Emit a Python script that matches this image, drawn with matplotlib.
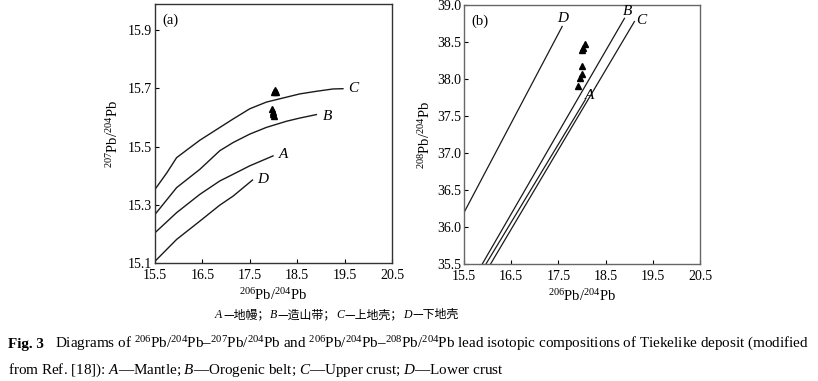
import matplotlib
matplotlib.use("Agg")
import matplotlib.pyplot as plt

plt.rcParams['font.family'] = ['Liberation Serif', 'Noto Sans CJK SC']
plt.rcParams['mathtext.fontset'] = 'custom'
plt.rcParams['mathtext.rm'] = 'Liberation Serif'
plt.rcParams['mathtext.it'] = 'Liberation Serif:italic'
plt.rcParams['mathtext.bf'] = 'Liberation Serif:bold'

# ---- panel (a): 206Pb/204Pb vs 207Pb/204Pb evolution curves
a_C_x = [15.5, 15.75, 15.956, 16.2, 16.447, 17.149, 17.5, 17.851, 18.553, 18.904, 19.254, 19.465]
a_C_y = [15.353, 15.41, 15.462, 15.492, 15.522, 15.595, 15.630, 15.653, 15.681, 15.690, 15.698, 15.699]
a_B_x = [15.5, 15.956, 16.447, 16.868, 17.149, 17.5, 17.851, 18.272, 18.553, 18.904]
a_B_y = [15.267, 15.359, 15.422, 15.486, 15.514, 15.543, 15.566, 15.587, 15.598, 15.610]
a_A_x = [15.5, 15.956, 16.447, 16.868, 17.149, 17.5, 17.99]
a_A_y = [15.204, 15.273, 15.336, 15.382, 15.405, 15.434, 15.468]
a_D_x = [15.5, 15.956, 16.447, 16.868, 17.149, 17.556]
a_D_y = [15.106, 15.181, 15.244, 15.299, 15.330, 15.385]
# samples
a_pts_x = [18.0, 18.03, 18.05, 17.97, 17.98, 17.99, 18.0]
a_pts_y = [15.688, 15.693, 15.686, 15.630, 15.620, 15.611, 15.605]
a_labels = {'C': (19.68, 15.698), 'B': (19.15, 15.605), 'A': (18.22, 15.472), 'D': (17.78, 15.388)}

# ---- panel (b): 206Pb/204Pb vs 208Pb/204Pb
b_D_x = [15.5, 17.58]
b_D_y = [36.195, 38.71]
b_B_x = [15.887, 17.4, 18.90]
b_B_y = [35.5, 37.17, 38.82]
b_A_x = [15.965, 18.07]
b_A_y = [35.5, 37.72]
b_C_x = [16.063, 19.11]
b_C_y = [35.5, 38.776]
b_pts_x = [18.056, 18.014, 17.99, 18.0, 18.0, 17.96, 17.91]
b_pts_y = [38.47, 38.417, 38.39, 38.17, 38.07, 38.01, 37.91]
b_labels = {'D': (17.58, 38.82), 'B': (18.97, 38.91), 'C': (19.25, 38.79), 'A': (18.16, 37.78)}

xticks = [15.5, 16.5, 17.5, 18.5, 19.5, 20.5]
a_yticks = [15.1, 15.3, 15.5, 15.7, 15.9]
b_yticks = [35.5, 36.0, 36.5, 37.0, 37.5, 38.0, 38.5, 39.0]

fig = plt.figure(figsize=(8.18, 3.81), dpi=100)
ax1 = fig.add_axes([155/818, 1 - 263/381, 237/818, 259/381])
ax2 = fig.add_axes([464/818, 1 - 264/381, 236/818, 259/381])

lc = '#1a1a1a'
for xs, ys in [(a_C_x, a_C_y), (a_B_x, a_B_y), (a_A_x, a_A_y), (a_D_x, a_D_y)]:
    ax1.plot(xs, ys, color=lc, lw=1.0)
ax1.plot(a_pts_x, a_pts_y, '^', color='black', ms=4.5, mec='black')
for k, (x, y) in a_labels.items():
    ax1.text(x, y, k, style='italic', fontsize=11, ha='center', va='center')

for xs, ys in [(b_D_x, b_D_y), (b_B_x, b_B_y), (b_A_x, b_A_y), (b_C_x, b_C_y)]:
    ax2.plot(xs, ys, color=lc, lw=0.9)
ax2.plot(b_pts_x, b_pts_y, '^', color='black', ms=4, mec='black')
for k, (x, y) in b_labels.items():
    ax2.text(x, y, k, style='italic', fontsize=11, ha='center', va='center')

ax1.set_xlim(15.5, 20.5)
ax1.set_ylim(15.1, 15.99)
ax1.set_yticks(a_yticks)
ax1.set_yticklabels([f'{v:.1f}' for v in a_yticks])
ax2.set_xlim(15.5, 20.5)
ax2.set_ylim(35.5, 39.0)
ax2.set_yticks(b_yticks)
ax2.set_yticklabels([f'{v:.1f}' for v in b_yticks])

for ax, fc in [(ax1, '#333333'), (ax2, '#666666')]:
    ax.set_xticks(xticks)
    ax.set_xticklabels([f'{v:.1f}' for v in xticks])
    ax.tick_params(direction='in', length=3, width=0.8, labelsize=10, pad=2, colors='black')
    ax.tick_params(axis='x', pad=4)
    for s in ax.spines.values():
        s.set_color(fc)
        s.set_linewidth(1.0)
    ax.set_xlabel('$^{206}$Pb/$^{204}$Pb', fontsize=10.5, labelpad=4)

ax1.set_ylabel('$^{207}$Pb/$^{204}$Pb', fontsize=10.5, labelpad=5)
ax2.set_ylabel('$^{208}$Pb/$^{204}$Pb', fontsize=10.5, labelpad=3)
ax1.text(0.03, 0.965, '(a)', transform=ax1.transAxes, fontsize=10.5, va='top')
ax2.text(0.03, 0.965, '(b)', transform=ax2.transAxes, fontsize=10.5, va='top')

# legend line under panel (a), italic letters + Chinese, placed piece by piece
parts = [('A', True), ('—地幔；', False), ('B', True), ('—造山带；', False),
         ('C', True), ('—上地壳；', False), ('D', True), ('—下地壳', False)]
renderer = fig.canvas.get_renderer()
xpix = 215
for txt, it in parts:
    t = fig.text(xpix / 818, 1 - 318 / 381, txt, fontsize=8.6, va='baseline',
                 style='italic' if it else 'normal',
                 family=['Liberation Serif'] if it else ['Noto Sans CJK SC', 'Liberation Serif'])
    xpix = t.get_window_extent(renderer).x1 + (1 if it else 0)

# caption
fig.text(8/818, 1 - 348/381, 'Fig. 3', fontsize=10.9, weight='bold')
fig.text(55/818, 1 - 348/381,
         'Diagrams of $^{206}$Pb/$^{204}$Pb–$^{207}$Pb/$^{204}$Pb and '
         '$^{206}$Pb/$^{204}$Pb–$^{208}$Pb/$^{204}$Pb lead isotopic compositions '
         'of Tiekelike deposit (modified', fontsize=10.9)
fig.text(8/818, 1 - 374/381,
         'from Ref. [18]): $A$—Mantle; $B$—Orogenic belt; $C$—Upper crust; $D$—Lower crust',
         fontsize=10.9)

fig.savefig('out.png', dpi=100)
